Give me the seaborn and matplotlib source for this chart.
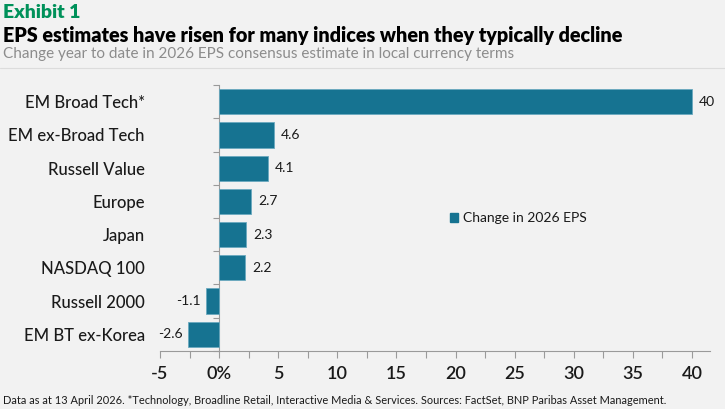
import matplotlib
matplotlib.use("Agg")
import matplotlib.pyplot as plt
import seaborn as sns
import pandas as pd

# Data
indices = ['EM Broad Tech*', 'EM ex-Broad Tech', 'Russell Value', 'Europe',
           'Japan', 'NASDAQ 100', 'Russell 2000', 'EM BT ex-Korea']
eps_change = [40, 4.6, 4.1, 2.7, 2.3, 2.2, -1.1, -2.6]
x_ticks = [-5, 0, 5, 10, 15, 20, 25, 30, 35, 40]
x_tick_labels = ['-5', '0%', '5', '10', '15', '20', '25', '30', '35', '40']

# Labels
exhibit_l = 'Exhibit 1'
title_l = 'EPS estimates have risen for many indices when they typically decline'
sub_l = 'Change year to date in 2026 EPS consensus estimate in local currency terms'
foot_l = ('Data as at 13 April 2026. *Technology, Broadline Retail, Interactive '
          'Media & Services. Sources: FactSet, BNP Paribas Asset Management.')
legend_l = 'Change in 2026 EPS'

# Colors
bg_c = '#f2f2f2'
bar_c = '#167391'
edge_c = '#6aa9bf'
green_c = '#00915a'
axis_c = '#9a9a9a'
text_c = '#1a1a1a'

df = pd.DataFrame({'index': indices, 'eps': eps_change})

sns.set_theme(style='white')
plt.rcParams['font.family'] = ['Lato', 'DejaVu Sans']

fig = plt.figure(figsize=(7.25, 4.09), dpi=100, facecolor=bg_c)
ax = fig.add_axes([0.2207, 0.142, 0.7583, 0.650])
ax.set_facecolor(bg_c)

sns.barplot(data=df, x='eps', y='index', orient='h', color=bar_c,
            saturation=1, width=0.76, edgecolor=edge_c, linewidth=0.6, ax=ax)

xmin, xmax = -5, 41.5
ax.set_xlim(xmin, xmax)
ax.set_ylim(len(indices) - 0.5, -0.5)

# Value labels
for i, v in enumerate(eps_change):
    lab = f'{v:g}'
    if v >= 0:
        ax.annotate(lab, (v, i), xytext=(5, 0), textcoords='offset points',
                    ha='left', va='center', fontsize=10, color=text_c)
    else:
        ax.annotate(lab, (v, i), xytext=(-4, 0), textcoords='offset points',
                    ha='right', va='center', fontsize=10, color=text_c)

# Axes styling
ax.set_xlabel('')
ax.set_ylabel('')
for s in ['top', 'right', 'left']:
    ax.spines[s].set_visible(False)
ax.spines['bottom'].set_color(axis_c)
ax.spines['bottom'].set_linewidth(0.8)
ax.set_xticks(x_ticks)
ax.set_xticklabels(x_tick_labels, fontweight='semibold')
ax.set_xticks([t + 2.5 for t in x_ticks[:-1]], minor=True)
ax.tick_params(axis='x', which='both', direction='out', length=5, width=0.8,
               color=axis_c, labelsize=13, labelcolor=text_c, pad=6, bottom=True)
ax.tick_params(axis='y', length=0, labelsize=12, labelcolor=text_c, pad=11)
for t in ax.get_yticklabels():
    t.set_fontweight('medium')

# Category axis drawn at zero
zero_frac = (0 - xmin) / (xmax - xmin)
sec = ax.secondary_yaxis(zero_frac)
sec.set_yticks([k - 0.5 for k in range(len(indices) + 1)])
sec.set_yticklabels([])
sec.tick_params(length=4, width=0.8, color=axis_c, direction='out')
sec.spines['left'].set_color(axis_c)
sec.spines['left'].set_linewidth(0.8)
for s in ['top', 'right', 'bottom']:
    sec.spines[s].set_visible(False)

# Legend
handle = plt.Rectangle((0, 0), 1, 1, color=bar_c)
leg = ax.legend([handle], [legend_l], loc='center left',
                bbox_to_anchor=(0.505, 0.5), frameon=False, fontsize=10,
                handlelength=0.6, handleheight=0.6, handletextpad=0.3)
for t in leg.get_texts():
    t.set_color(text_c)

# Titles and footer
fig.text(0.004, 0.99, exhibit_l, ha='left', va='top', fontsize=14,
         fontweight='heavy', color=green_c)
fig.text(0.004, 0.937, title_l, ha='left', va='top', fontsize=14.25,
         fontweight='heavy', color='black')
fig.text(0.004, 0.884, sub_l, ha='left', va='top', fontsize=11,
         color='#8c8c8c')
fig.add_artist(plt.Line2D([0, 1], [0.833, 0.833], color='#dcdcdc',
                          linewidth=0.8, transform=fig.transFigure))
fig.text(0.004, 0.008, foot_l, ha='left', va='bottom', fontsize=7.9,
         color=text_c)

fig.savefig('out.png', dpi=100, facecolor=bg_c)
